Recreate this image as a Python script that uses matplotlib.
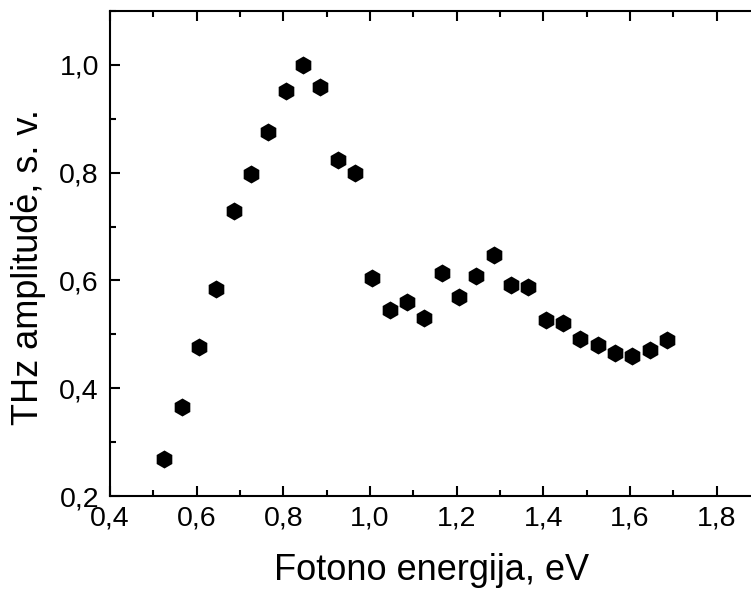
import matplotlib
matplotlib.use("Agg")
import matplotlib.pyplot as plt
from matplotlib.ticker import MultipleLocator, FixedLocator, FuncFormatter

plt.rcParams['font.family'] = ['Liberation Sans', 'DejaVu Sans']

energy = [0.525, 0.565, 0.605, 0.645, 0.685, 0.725, 0.765, 0.805, 0.845, 0.885,
          0.925, 0.965, 1.005, 1.045, 1.085, 1.125, 1.165, 1.205, 1.245, 1.285,
          1.325, 1.365, 1.405, 1.445, 1.485, 1.525, 1.565, 1.605, 1.645, 1.685]
amplitude = [0.269, 0.366, 0.476, 0.585, 0.729, 0.798, 0.876, 0.952, 1.000, 0.959,
             0.824, 0.800, 0.604, 0.546, 0.560, 0.531, 0.613, 0.570, 0.609, 0.648,
             0.591, 0.588, 0.526, 0.521, 0.492, 0.480, 0.466, 0.460, 0.471, 0.489]
xticks = [0.4, 0.6, 0.8, 1.0, 1.2, 1.4, 1.6, 1.8]

xlabel = "Fotono energija, eV"
ylabel = "THz amplitudė, s. v."

W, H = 751, 590
fig = plt.figure(figsize=(W / 100, H / 100), dpi=100)
left, right, bottom, top = 110, 803.5, 496, 11
ax = fig.add_axes([left / W, 1 - bottom / H, (right - left) / W, (bottom - top) / H])

ax.plot(energy, amplitude, linestyle='none', marker='h', markersize=13,
        color='black', markeredgewidth=0)

ax.set_xlim(0.4, 2.0)
ax.set_ylim(0.2, 1.1)
ax.xaxis.set_major_locator(FixedLocator(xticks))
ax.xaxis.set_minor_locator(MultipleLocator(0.1))
ax.yaxis.set_major_locator(MultipleLocator(0.2))
ax.yaxis.set_minor_locator(MultipleLocator(0.1))
fmt = FuncFormatter(lambda v, p: f"{v:.1f}".replace('.', ','))
ax.xaxis.set_major_formatter(fmt)
ax.yaxis.set_major_formatter(fmt)

ax.tick_params(which='both', direction='in', top=True, right=True, width=1.5)
ax.tick_params(which='major', length=7, labelsize=20.5)
ax.tick_params(axis='x', which='major', pad=7)
ax.tick_params(axis='y', which='major', pad=8)
ax.tick_params(which='minor', length=4)
for s in ax.spines.values():
    s.set_linewidth(1.5)

fig.text(432 / W, 1 - 570 / H, xlabel, fontsize=26, ha='center', va='center')
fig.text(29 / W, 1 - 267 / H, ylabel, fontsize=26, ha='center', va='center', rotation=90)

fig.savefig("out.png", dpi=100)
